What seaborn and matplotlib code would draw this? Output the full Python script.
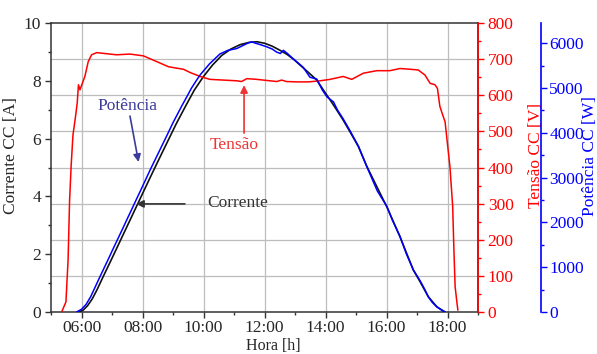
import numpy as np
import pandas as pd
import matplotlib
matplotlib.use("Agg")
import matplotlib.pyplot as plt
from matplotlib.ticker import MultipleLocator
import seaborn as sns

sns.set_style("white")
plt.rcParams["font.family"] = ["Liberation Serif", "DejaVu Serif"]
plt.rcParams["font.size"] = 12.5

# --- DC voltage (V) over the day ---
hora_tensao = [5.35, 5.49, 5.56, 5.61, 5.66, 5.72, 5.79, 5.86, 5.90, 5.95, 6.01, 6.11,
               6.22, 6.33, 6.50, 6.71, 7.15, 7.59, 8.03, 8.47, 8.85, 9.12, 9.34, 9.56,
               9.89, 10.21, 10.65, 11.09, 11.25, 11.42, 11.74, 12.07, 12.40, 12.56,
               12.72, 13.05, 13.44, 13.82, 14.15, 14.58, 14.86, 15.24, 15.68, 16.11,
               16.44, 16.77, 17.04, 17.26, 17.43, 17.59, 17.67, 17.75, 17.86, 17.92,
               18.08, 18.17, 18.21, 18.25, 18.30, 18.34]
tensao = [0, 28, 144, 310, 404, 490, 532, 579, 629, 615, 629, 652,
          693, 712, 718, 716, 712, 714, 709, 693, 679, 675, 672, 663,
          652, 644, 642, 640, 638, 646, 644, 641, 638, 642,
          638, 637, 637, 640, 644, 652, 644, 661, 668, 668,
          674, 672, 670, 656, 633, 629, 619, 569, 541, 527,
          402, 292, 172, 70, 33, 5]

# --- DC current (A) ---
hora_corrente = [5.90, 6.05, 6.20, 6.35, 6.50, 6.70, 7.00, 7.30, 7.60, 7.90, 8.20,
                 8.50, 8.80, 9.10, 9.40, 9.70, 10.00, 10.30, 10.60, 10.90, 11.20,
                 11.50, 11.75, 12.00, 12.25, 12.50, 12.73, 12.95, 13.16, 13.45,
                 13.71, 13.95, 14.15, 14.35, 14.58, 14.85, 15.08, 15.35, 15.70,
                 16.01, 16.44, 16.88, 17.10, 17.37, 17.65, 17.92]
corrente = [0.0, 0.06, 0.22, 0.45, 0.75, 1.20, 1.86, 2.53, 3.20, 3.87, 4.54,
            5.20, 5.85, 6.50, 7.10, 7.68, 8.15, 8.55, 8.88, 9.10, 9.25,
            9.33, 9.35, 9.30, 9.20, 9.06, 8.92, 8.75, 8.55, 8.28,
            8.03, 7.65, 7.34, 7.02, 6.64, 6.15, 5.72, 5.05, 4.30,
            3.64, 2.61, 1.45, 1.05, 0.53, 0.18, 0.0]

# --- DC power (W) ---
hora_potencia = [5.84, 6.00, 6.15, 6.30, 6.45, 6.60, 6.75, 6.90, 7.05, 7.20, 7.35,
                 7.50, 7.65, 7.80, 7.95, 8.10, 8.25, 8.40, 8.55, 8.70, 8.85, 9.00,
                 9.15, 9.30, 9.45, 9.60, 9.75, 9.90, 10.20, 10.54, 10.80, 11.09,
                 11.30, 11.45, 11.58, 11.70, 11.85, 12.07, 12.25, 12.40, 12.52,
                 12.62, 12.75, 12.94, 13.10, 13.27, 13.49, 13.71, 13.90, 14.05,
                 14.26, 14.40, 14.58, 14.80, 15.08, 15.35, 15.70, 16.01, 16.20,
                 16.44, 16.65, 16.88, 17.10, 17.25, 17.37, 17.50, 17.65, 17.80, 17.92]
potencia = [0, 60, 170, 340, 560, 780, 995, 1210, 1430, 1645, 1860,
            2080, 2295, 2515, 2730, 2950, 3170, 3380, 3590, 3800, 4010, 4225,
            4420, 4615, 4800, 4990, 5150, 5300, 5540, 5760, 5840, 5880,
            5950, 6000, 6030, 6000, 5970, 5920, 5870, 5800, 5770,
            5840, 5770, 5650, 5560, 5460, 5240, 5200, 4950, 4800,
            4690, 4500, 4310, 4050, 3700, 3250, 2700, 2360, 2040,
            1690, 1300, 940, 700, 510, 340, 215, 115, 45, 0]

df_v = pd.DataFrame({"hora": hora_tensao, "valor": tensao})
df_i = pd.DataFrame({"hora": hora_corrente, "valor": corrente})
df_p = pd.DataFrame({"hora": hora_potencia, "valor": potencia})

hora_ticks = [6, 8, 10, 12, 14, 16, 18]
hora_labels = ["06:00", "08:00", "10:00", "12:00", "14:00", "16:00", "18:00"]

RED = "#ff0000"
BLUE = "#0000ff"
SPINE = "#333333"
GRID = "#bdbdbd"

fig = plt.figure(figsize=(5.97, 3.54), dpi=100)
ax1 = fig.add_axes([51 / 597, 1 - 312 / 354, 427 / 597, 289 / 354])
ax2 = ax1.twinx()
ax3 = ax1.twinx()

# grid: vertical at the hour ticks, horizontal at the voltage ticks
for h in hora_ticks:
    ax1.axvline(h, color=GRID, lw=0.9, zorder=0)
for v in range(100, 800, 100):
    ax1.axhline(v * 10 / 800, color=GRID, lw=0.9, zorder=0)

sns.lineplot(data=df_i, x="hora", y="valor", ax=ax1, color="#111111", lw=1.2,
             sort=False, estimator=None, zorder=3)
sns.lineplot(data=df_v, x="hora", y="valor", ax=ax2, color=RED, lw=1.1,
             sort=False, estimator=None)
sns.lineplot(data=df_p, x="hora", y="valor", ax=ax3, color=BLUE, lw=1.1,
             sort=False, estimator=None)

ax1.set_xlim(5, 19)
ax1.set_ylim(0, 10)
ax2.set_ylim(0, 800)
ax3.set_ylim(0, 6450)

ax1.set_xticks(hora_ticks)
ax1.set_xticklabels(hora_labels)
ax1.xaxis.set_minor_locator(MultipleLocator(1))
ax1.yaxis.set_major_locator(MultipleLocator(2))
ax1.yaxis.set_minor_locator(MultipleLocator(1))
ax2.yaxis.set_major_locator(MultipleLocator(100))
ax2.yaxis.set_minor_locator(MultipleLocator(50))
ax3.yaxis.set_major_locator(MultipleLocator(1000))
ax3.yaxis.set_minor_locator(MultipleLocator(500))

for sp in ax1.spines.values():
    sp.set_color(SPINE)
    sp.set_linewidth(1.1)
ax1.tick_params(axis="both", which="major", direction="out", length=4, width=1,
                color=SPINE, pad=3, labelsize=12.5, bottom=True, left=True)
ax1.tick_params(axis="x", which="major", pad=2)
ax1.tick_params(axis="both", which="minor", direction="out", length=2.5, width=1,
                color=SPINE, bottom=True, left=True)

for name in ("left", "top", "bottom"):
    ax2.spines[name].set_visible(False)
    ax3.spines[name].set_visible(False)
ax2.spines["right"].set_color(RED)
ax2.spines["right"].set_linewidth(1.2)
ax3.spines["right"].set_color(BLUE)
ax3.spines["right"].set_linewidth(1.2)
ax3.spines["right"].set_position(("axes", 1 + 63 / 427))

ax2.tick_params(axis="y", which="major", direction="out", length=4.5, width=1,
                color=RED, labelcolor=RED, pad=2.5, labelsize=12.5, right=True)
ax2.tick_params(axis="y", which="minor", direction="out", length=2.5, width=1,
                color=RED, right=True)
ax3.tick_params(axis="y", which="major", direction="out", length=4.5, width=1,
                color=BLUE, labelcolor=BLUE, pad=1.5, labelsize=12.5, right=True)
ax3.tick_params(axis="y", which="minor", direction="out", length=2.5, width=1,
                color=BLUE, right=True)

ax1.set_xlabel("Hora [h]", fontsize=11.5)
ax1.set_ylabel("Corrente CC [A]", fontsize=12.5)
ax2.set_ylabel("Tensão CC [V]", fontsize=12.5, color=RED)
ax3.set_ylabel("Potência CC [W]", fontsize=12.5, color=BLUE)
ax1.xaxis.set_label_coords(0.52, -0.0885)
ax1.yaxis.set_label_coords(-0.074, 0.54)
ax2.yaxis.set_label_coords(1.117, 0.54)
ax3.yaxis.set_label_coords(1.243, 0.54)

# annotations
POT = "#3b3b9b"
ax1.text(7.52, 7.13, "Potência", color=POT, fontsize=12.5, ha="center", va="center")
ax1.annotate("", xy=(7.87, 5.19), xytext=(7.59, 6.78),
             arrowprops=dict(arrowstyle="-|>", color=POT, lw=1.2, mutation_scale=11,
                             shrinkA=0, shrinkB=0))
ax1.text(11.02, 5.78, "Tensão", color="#ee3333", fontsize=12.5, ha="center", va="center")
ax1.annotate("", xy=(11.33, 7.85), xytext=(11.33, 6.19),
             arrowprops=dict(arrowstyle="-|>", color="#ee3333", lw=1.2, mutation_scale=11,
                             shrinkA=0, shrinkB=0))
ax1.text(11.13, 3.77, "Corrente", color="#333333", fontsize=12.5, ha="center", va="center")
ax1.annotate("", xy=(7.79, 3.74), xytext=(9.39, 3.74),
             arrowprops=dict(arrowstyle="-|>", color="#333333", lw=1.2, mutation_scale=11,
                             shrinkA=0, shrinkB=0))

fig.savefig("out.png", dpi=100)
